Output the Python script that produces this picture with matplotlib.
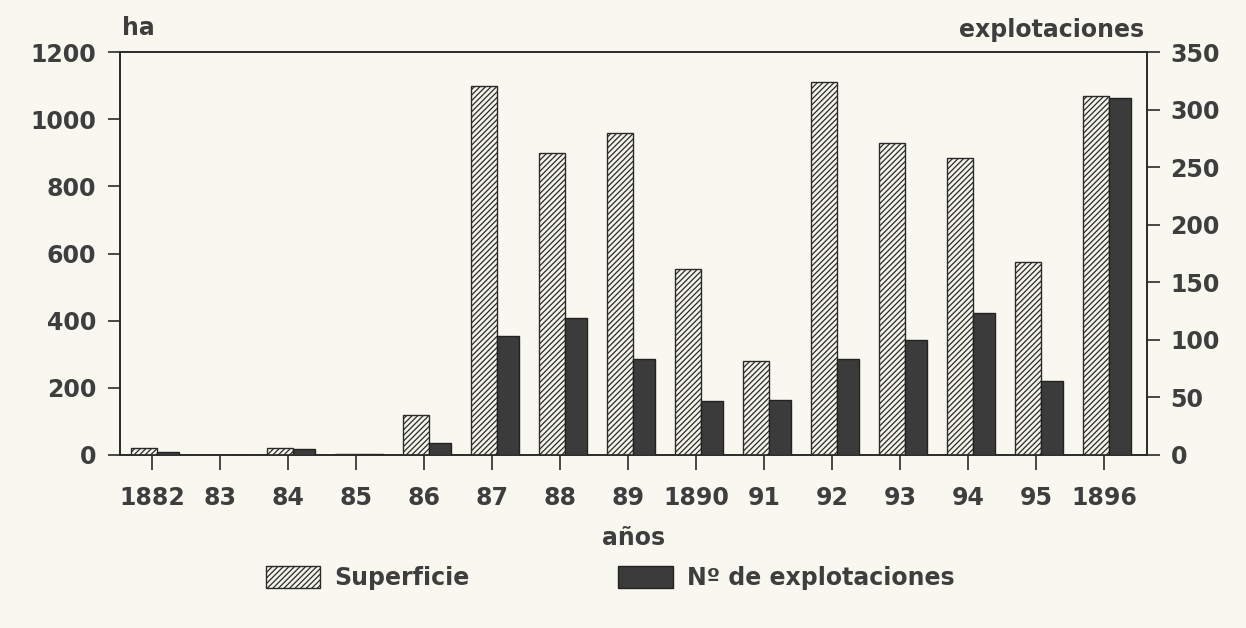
import matplotlib
matplotlib.use("Agg")
import matplotlib.pyplot as plt
import numpy as np

years = ["1882", "83", "84", "85", "86", "87", "88", "89", "1890",
         "91", "92", "93", "94", "95", "1896"]
superficie = [20, 0, 20, 2, 120, 1100, 900, 960, 555, 280, 1110, 930, 885, 575, 1070]
explotaciones = [3, 0, 5, 1, 10, 103, 119, 83, 47, 48, 83, 100, 123, 64, 310]

plt.rcParams['font.family'] = ['DejaVu Sans']
plt.rcParams['font.weight'] = 'bold'
plt.rcParams['axes.labelweight'] = 'bold'
plt.rcParams['hatch.color'] = '#3a3a3a'
plt.rcParams['hatch.linewidth'] = 0.9

bg = '#f9f8f0'
fig = plt.figure(figsize=(12.46, 6.28), dpi=100, facecolor=bg)
ax = fig.add_axes([0.0963, 0.2755, 0.8242, 0.6415])
ax.set_facecolor(bg)
ax2 = ax.twinx()

x = np.arange(len(years))
ax.bar(x - 0.31, superficie, width=0.38, align='edge', facecolor='#f4f3ea',
       edgecolor='#2a2a2a', linewidth=1.0, hatch='//////', label='Superficie', zorder=3)
ax2.bar(x + 0.07, explotaciones, width=0.33, align='edge', facecolor='#3b3b3b',
        edgecolor='#222222', linewidth=1.0, label='Nº de explotaciones', zorder=3)

ax.set_xlim(-0.47, 14.63)
ax.set_ylim(0, 1200)
ax2.set_ylim(0, 350)
ax.set_yticks(range(0, 1201, 200))
ax2.set_yticks(range(0, 351, 50))
ax.set_xticks(x)
ax.set_xticklabels(years)

fs = 17
col = '#3e3e3e'
for a in (ax, ax2):
    for s in a.spines.values():
        s.set_color('#2a2a2a')
        s.set_linewidth(1.2)
ax.tick_params(axis='y', direction='out', length=9, width=1.2, colors='#2a2a2a',
               labelcolor=col, labelsize=fs, pad=8)
ax2.tick_params(axis='y', direction='out', length=9, width=1.2, colors='#2a2a2a',
                labelcolor=col, labelsize=fs, pad=8)
ax.tick_params(axis='x', direction='out', length=11, width=1.2, colors='#2a2a2a',
               labelcolor=col, labelsize=fs, pad=11)

ax.set_xlabel('años', fontsize=fs, color=col, labelpad=12)
fig.text(0.098, 0.955, 'ha', fontsize=fs, color=col, ha='left', va='center')
fig.text(0.918, 0.952, 'explotaciones', fontsize=fs, color=col, ha='right', va='center')

h1, l1 = ax.get_legend_handles_labels()
h2, l2 = ax2.get_legend_handles_labels()
leg = fig.legend(h1 + h2, l1 + l2, loc='center', bbox_to_anchor=(0.4896, 0.08),
                 ncol=2, frameon=False, fontsize=fs, handlelength=2.3,
                 handleheight=1.1, columnspacing=6.3, handletextpad=0.6)
for t in leg.get_texts():
    t.set_color(col)

fig.savefig('out.png', dpi=100, facecolor=bg)
